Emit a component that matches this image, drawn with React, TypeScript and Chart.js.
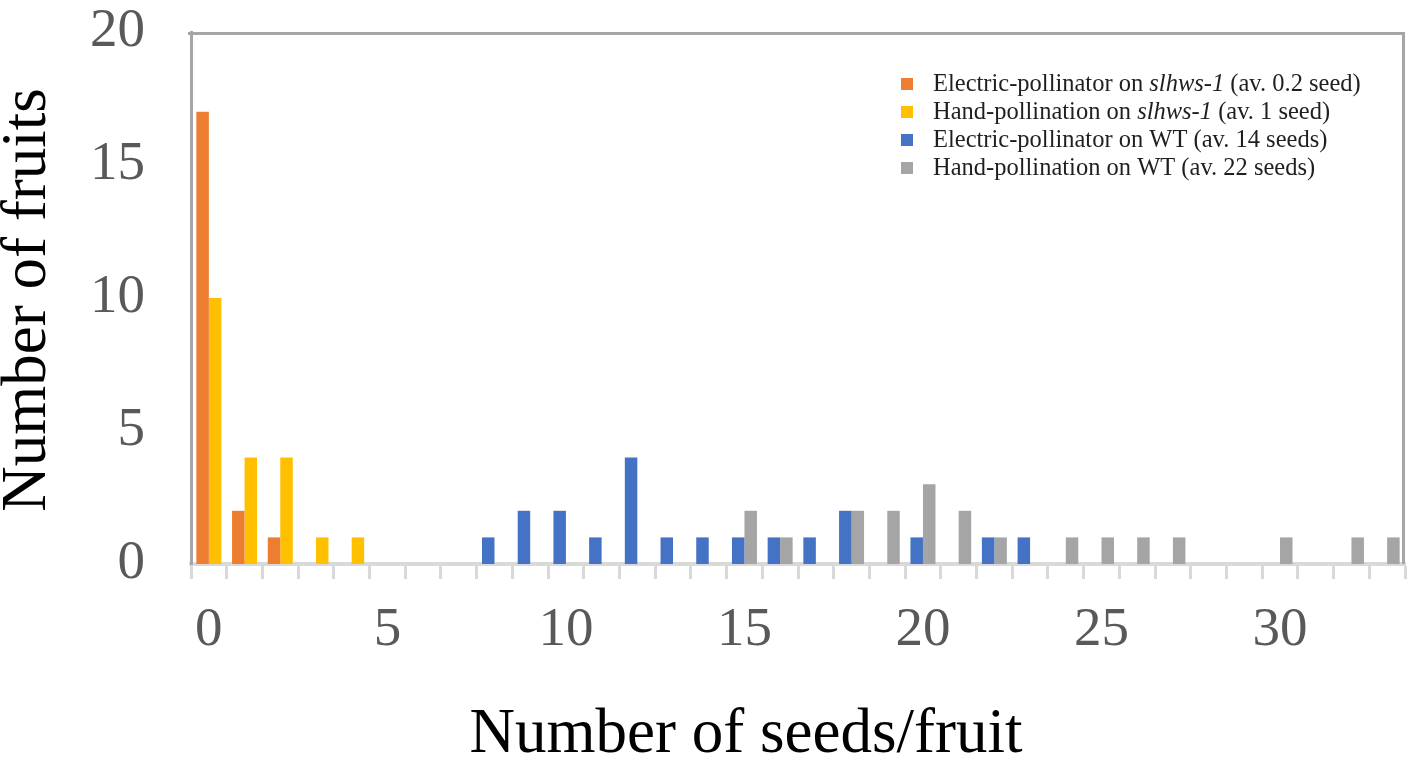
import React, { useEffect, useRef } from 'react';
import { Chart, registerables } from 'chart.js';

Chart.register(...registerables);

// ---- data ----
const categories = [
  '0', '1', '2', '3', '4', '5', '6', '7', '8', '9', '10', '11', '12', '13', '14', '15', '16',
  '17', '18', '19', '20', '21', '22', '23', '24', '25', '26', '27', '28', '29', '30', '31', '32', '33',
];
const xTickLabels = ['0', '5', '10', '15', '20', '25', '30'];
const yTickValues = [0, 5, 10, 15, 20];

const seriesLabels = [
  'Electric-pollinator on slhws-1 (av. 0.2 seed)',
  'Hand-pollination on slhws-1 (av. 1 seed)',
  'Electric-pollinator on WT (av. 14 seeds)',
  'Hand-pollination on WT (av. 22 seeds)',
];
const italicTerm = 'slhws-1';

const electricMutant = [17, 2, 1, 0, 0, 0, 0, 0, 0, 0, 0, 0, 0, 0, 0, 0, 0, 0, 0, 0, 0, 0, 0, 0, 0, 0, 0, 0, 0, 0, 0, 0, 0, 0];
const handMutant = [10, 4, 4, 1, 1, 0, 0, 0, 0, 0, 0, 0, 0, 0, 0, 0, 0, 0, 0, 0, 0, 0, 0, 0, 0, 0, 0, 0, 0, 0, 0, 0, 0, 0];
const electricWT = [0, 0, 0, 0, 0, 0, 0, 0, 1, 2, 2, 1, 4, 1, 1, 1, 1, 1, 2, 0, 1, 0, 1, 1, 0, 0, 0, 0, 0, 0, 0, 0, 0, 0];
const handWT = [0, 0, 0, 0, 0, 0, 0, 0, 0, 0, 0, 0, 0, 0, 0, 2, 1, 0, 2, 2, 3, 2, 1, 0, 1, 1, 1, 1, 0, 0, 1, 0, 1, 1];

const seriesColors = ['#ED7D31', '#FFC000', '#4472C4', '#A5A5A5'];

const SERIF = '"Liberation Serif", "Times New Roman", serif';

const framePlugin = {
  id: 'frame',
  afterDraw(chart: any) {
    const { ctx, chartArea } = chart;
    ctx.save();
    ctx.strokeStyle = '#a6a6a6';
    ctx.lineWidth = 3;
    ctx.beginPath();
    ctx.moveTo(chartArea.left - 3, chartArea.top + 1.5);
    ctx.lineTo(chartArea.right, chartArea.top + 1.5);
    ctx.moveTo(chartArea.right - 1.5, chartArea.top);
    ctx.lineTo(chartArea.right - 1.5, chartArea.bottom);
    ctx.stroke();
    ctx.restore();
  },
};

const titlesPlugin = {
  id: 'titles',
  afterDraw(chart: any) {
    const { ctx } = chart;
    ctx.save();
    ctx.fillStyle = '#000000';
    ctx.font = `63px ${SERIF}`;
    ctx.textAlign = 'center';
    ctx.textBaseline = 'alphabetic';
    ctx.fillText('Number of seeds/fruit', 746, 752);
    ctx.translate(45, 300);
    ctx.rotate(-Math.PI / 2);
    ctx.fillText('Number of fruits', 0, 0);
    ctx.restore();
  },
};

const legendPlugin = {
  id: 'customLegend',
  afterDraw(chart: any) {
    const { ctx, chartArea } = chart;
    const x0 = chartArea.right - 504;
    const y0 = chartArea.top + 52;
    const rowH = 28;
    ctx.save();
    chart.data.datasets.forEach((ds: any, i: number) => {
      const yc = y0 + i * rowH;
      ctx.fillStyle = ds.backgroundColor;
      ctx.fillRect(x0, yc - 6, 12, 12);
      ctx.fillStyle = '#1f1f1f';
      ctx.textBaseline = 'alphabetic';
      ctx.textAlign = 'left';
      const parts = String(ds.label).split(italicTerm);
      let x = x0 + 32;
      parts.forEach((p: string, k: number) => {
        ctx.font = `24.5px ${SERIF}`;
        ctx.fillText(p, x, yc + 7);
        x += ctx.measureText(p).width;
        if (k < parts.length - 1) {
          ctx.font = `italic 24.5px ${SERIF}`;
          ctx.fillText(italicTerm, x, yc + 7);
          x += ctx.measureText(italicTerm).width;
        }
      });
    });
    ctx.restore();
  },
};

export default function App() {
  const ref = useRef<HTMLCanvasElement>(null);

  useEffect(() => {
    document.body.style.margin = '0';
    const canvas = ref.current!;
    const chart = new Chart(canvas, {
      type: 'bar',
      data: {
        labels: categories,
        datasets: [
          { label: seriesLabels[0], data: electricMutant, backgroundColor: seriesColors[0], stack: 'a' },
          { label: seriesLabels[1], data: handMutant, backgroundColor: seriesColors[1], stack: 'b' },
          { label: seriesLabels[2], data: electricWT, backgroundColor: seriesColors[2], stack: 'a' },
          { label: seriesLabels[3], data: handWT, backgroundColor: seriesColors[3], stack: 'b' },
        ],
      },
      options: {
        animation: false,
        responsive: false,
        layout: { padding: { top: 0, right: 12, left: 0, bottom: 0 } },
        datasets: { bar: { categoryPercentage: 0.7, barPercentage: 1.0, borderWidth: 0 } },
        plugins: {
          legend: { display: false },
          tooltip: { enabled: false },
          title: { display: false },
        },
        scales: {
          x: {
            type: 'category',
            offset: true,
            grid: {
              display: true,
              offset: true,
              drawOnChartArea: false,
              drawTicks: true,
              tickLength: 15,
              tickColor: '#d9d9d9',
              tickWidth: 3,
            },
            border: { display: true, color: '#d9d9d9', width: 4 },
            ticks: {
              autoSkip: false,
              maxRotation: 0,
              minRotation: 0,
              padding: 19,
              color: '#595959',
              font: { family: SERIF, size: 55 },
              callback: (_v: any, i: number) => (xTickLabels.includes(categories[i]) ? categories[i] : ''),
            },
            afterFit: (s: any) => {
              s.height = 763 - 564;
            },
          },
          y: {
            min: 0,
            max: 20,
            stacked: false,
            afterBuildTicks: (s: any) => {
              s.ticks = yTickValues.map((v) => ({ value: v }));
            },
            ticks: {
              padding: 46,
              color: '#595959',
              font: { family: SERIF, size: 55 },
            },
            grid: { display: false, drawTicks: false },
            border: { display: true, color: '#a6a6a6', width: 3 },
            afterFit: (s: any) => {
              s.width = 191;
              s.paddingTop = 32;
              s.paddingBottom = 0;
            },
          },
        },
      } as any,
      plugins: [framePlugin, titlesPlugin, legendPlugin],
    });
    return () => chart.destroy();
  }, []);

  return (
    <div style={{ width: 1417, height: 763, background: '#ffffff' }}>
      <canvas ref={ref} width={1417} height={763} style={{ display: 'block' }} />
    </div>
  );
}
